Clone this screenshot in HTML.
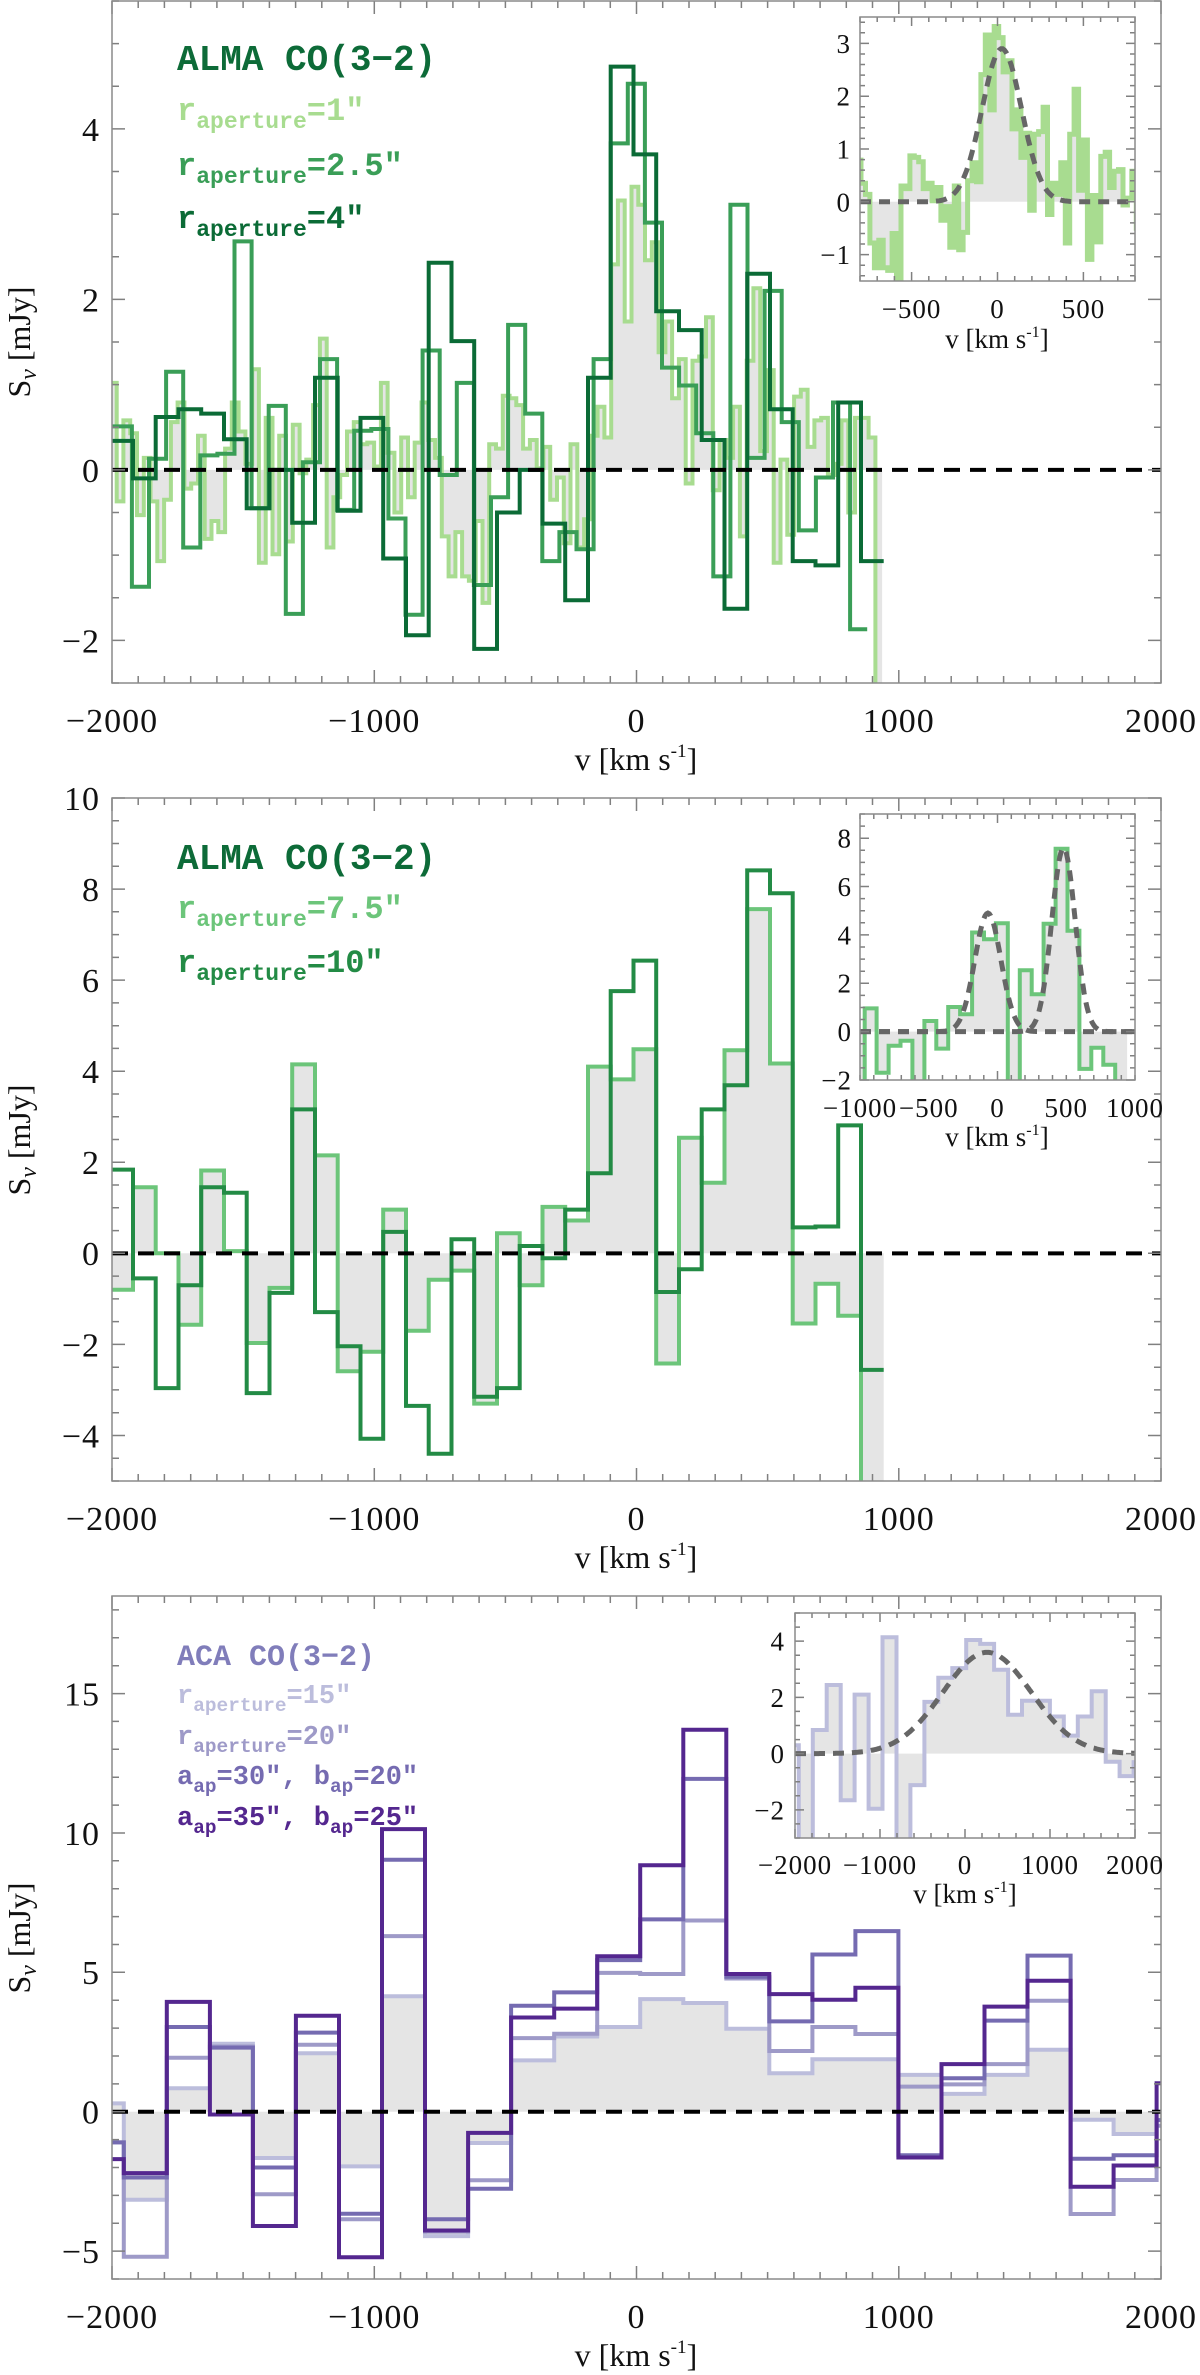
<!DOCTYPE html>
<html><head><meta charset="utf-8"><title>CO(3-2) spectra</title>
<style>
html,body{margin:0;padding:0;background:#fff;}
svg{display:block;}
text{font-family:"Liberation Serif",serif;fill:#111;}
.leg{font-family:"Liberation Mono",monospace;font-weight:bold;}
</style></head>
<body>
<svg id="fig" width="1200" height="2375" viewBox="0 0 1200 2375" xmlns="http://www.w3.org/2000/svg">
<rect x="0" y="0" width="1200" height="2375" fill="#fff"/>
</svg>
<script>
// ---------- DATA ----------
// Panel 1 (ALMA small apertures)
const vel1Start = -2008, vel1Width = 25.83;
const flux1 = [1.02,-0.37,0.58,0.43,-0.53,0.14,-0.37,-1.07,-0.35,0.56,0.79,-0.22,-0.16,0.40,-0.81,-0.60,-0.73,0.25,0.79,0.45,0.07,1.18,-1.09,0.61,-0.99,0.40,-0.84,0.53,-0.04,0.12,0.76,1.54,-0.91,-0.32,-0.06,0.45,0.56,0.30,0.32,0.04,1.02,0.20,-0.50,0.38,-0.32,0.32,0.79,0.35,0.14,-0.78,-1.25,-0.73,-1.25,-1.30,-0.60,-1.56,0.30,0.25,0.87,0.84,0.76,0.25,0.35,0.02,0.27,-0.35,-0.09,-0.86,0.30,-0.91,-0.58,0.40,0.74,0.38,2.41,3.16,1.74,3.32,3.11,2.46,2.67,1.38,1.74,0.84,1.30,-0.16,1.28,1.33,1.79,-0.24,0.35,0.14,0.74,-0.78,1.28,2.13,0.22,1.17,-1.09,0.12,-0.76,0.86,0.94,0.27,0.58,0.61,-0.06,0.07,0.58,-0.5,0.61,0.61,0.38,-3.0];
const vel25Start = -2054.4, vel25Width = 65.2;
const flux25 = [0.51,0.51,-1.37,0.13,1.15,-0.91,0.17,0.19,2.68,-0.45,0.75,-1.69,0.09,1.30,-0.47,0.46,0.48,-0.57,-1.70,1.40,-0.06,1.02,-1.35,-0.32,1.70,0.66,-1.07,-0.73,-0.93,1.30,3.83,4.53,2.90,1.20,0.99,0.43,-1.25,3.11,0.14,2.10,0.56,-0.71,-0.09,0.79,-1.87];
const vel4Start = -2006.75, vel4Width = 86.75;
const flux4 = [0.34,-0.1,0.62,0.71,0.66,0.36,-0.45,0.0,-0.62,1.08,-0.48,0.61,-1.04,-1.94,2.43,1.51,-2.1,-0.5,0.0,-0.63,-1.53,1.08,4.73,3.70,1.86,1.64,0.35,-1.63,2.30,0.71,-1.07,-1.12,0.79,-1.07];
// Panel 2 (ALMA large apertures)
const vel75Start = -2006.75, vel75Width = 86.75;
const flux75 = [-0.8,1.45,0,-1.57,1.82,0.05,-1.97,-0.76,4.15,2.15,-2.59,-2.16,0.96,-1.7,-0.58,-0.38,-3.3,0.44,-0.7,1.02,0.72,4.1,3.82,4.48,-2.42,2.54,1.55,4.46,7.56,4.17,-1.54,-0.67,-1.37,-6];
const flux10 = [1.84,-0.55,-2.96,-0.7,1.45,1.33,-3.07,-0.87,3.16,-1.29,-2.04,-4.07,0.47,-3.35,-4.4,0.31,-3.15,-2.96,0.16,-0.11,0.96,1.76,5.76,6.43,-0.85,-0.35,3.16,3.69,8.41,7.91,0.57,0.59,2.81,-2.56];
// Panel 3 (ACA)
const velAcaStart = -2119.1, velAcaWidth = 164.1;
const flux15 = [0.3,-3.16,0.84,2.44,-1.66,2.1,-1.96,4.14,-4.46,-1.12,1.84,2.7,3.04,4.04,3.9,2.98,1.38,1.88,1.88,1.32,0.64,1.32,2.22,-0.29,-0.8,-0.3];
const flux20 = [-1.1,-5.2,1.94,2.34,-2.96,2.4,-3.86,6.3,-4.3,-2.46,2.64,2.8,4.98,4.94,6.86,4.78,2.18,3.04,2.79,0.9,0.98,1.71,3.98,-3.67,-2.45,-0.5];
const flux30 = [-1.1,-2.36,3.04,2.3,-2.0,2.84,-3.66,9.04,-3.86,-2.76,3.8,4.28,5.44,6.9,11.94,4.84,3.24,5.64,6.48,-1.56,1.2,3.27,5.6,-1.69,-1.56,-0.3];
const flux35 = [-1.7,-2.2,3.94,-0.1,-4.1,3.44,-5.22,10.14,-4.26,-0.76,3.38,3.7,5.58,8.84,13.7,4.94,4.22,4.02,4.45,-1.64,1.71,3.77,4.7,-2.69,-1.93,1.02];
// Gaussian fits: amplitude, centre, sigma
const fit1Amp = [2.9], fit1Mu = [25], fit1Sig = [115];
const fit2Amp = [4.9, 7.6], fit2Mu = [-70, 480], fit2Sig = [95, 85];
const fit3Amp = [3.6], fit3Mu = [260], fit3Sig = [520];
// Tick labels
const mainXTicks = [-2000,-1000,0,1000,2000];
const p1YTicks = [-2,0,2,4];
const p2YTicks = [-4,-2,0,2,4,6,8,10];
const p3YTicks = [-5,0,5,10,15];
const in1XTicks = [-500,0,500], in1YTicks = [-1,0,1,2,3];
const in2XTicks = [-1000,-500,0,500,1000], in2YTicks = [-2,0,2,4,6,8];
const in3XTicks = [-2000,-1000,0,1000,2000], in3YTicks = [-2,0,2,4];

// ---------- DRAWING ----------
const NS = "http://www.w3.org/2000/svg";
const svg = document.getElementById('fig');
let clipId = 0;
function mk(tag, attrs, parent) {
  const e = document.createElementNS(NS, tag);
  for (const k in attrs) e.setAttribute(k, attrs[k]);
  (parent || svg).appendChild(e);
  return e;
}
function scale(d0, d1, r0, r1) { return v => r0 + (v - d0) * (r1 - r0) / (d1 - d0); }

function makeAxes(box, xr, yr) {
  const fx = scale(xr[0], xr[1], box.x0, box.x1);
  const fy = scale(yr[0], yr[1], box.y1, box.y0);
  return {fx, fy};
}
function clipFor(box) {
  const id = 'clip' + (clipId++);
  const cp = mk('clipPath', {id});
  mk('rect', {x: box.x0, y: box.y0, width: box.x1 - box.x0, height: box.y1 - box.y0}, cp);
  return 'url(#' + id + ')';
}
function stepD(ax, start, w, vals) {
  let d = `M${ax.fx(start).toFixed(1)},${ax.fy(vals[0]).toFixed(1)}`;
  for (let i = 0; i < vals.length; i++) {
    d += `H${ax.fx(start + (i + 1) * w).toFixed(1)}`;
    if (i + 1 < vals.length) d += `V${ax.fy(vals[i + 1]).toFixed(1)}`;
  }
  return d;
}
function fillD(ax, start, w, vals) {
  const y0 = ax.fy(0).toFixed(1);
  let d = `M${ax.fx(start).toFixed(1)},${y0}`;
  for (let i = 0; i < vals.length; i++) {
    d += `V${ax.fy(vals[i]).toFixed(1)}H${ax.fx(start + (i + 1) * w).toFixed(1)}`;
  }
  return d + `V${y0}Z`;
}
function drawTicks(g, box, ax, xr, yr, xMajor, xMinor, yMajor, yMinor, majLen, minLen) {
  let d = '';
  for (let v = Math.ceil(xr[0] / xMinor) * xMinor; v <= xr[1] + 1e-6; v += xMinor) {
    const isMaj = Math.abs(v / xMajor - Math.round(v / xMajor)) < 1e-6;
    const L = isMaj ? majLen : minLen, x = ax.fx(v).toFixed(1);
    d += `M${x},${box.y1}v${-L}M${x},${box.y0}v${L}`;
  }
  for (let v = Math.ceil(yr[0] / yMinor - 1e-6) * yMinor; v <= yr[1] + 1e-6; v += yMinor) {
    const isMaj = Math.abs(v / yMajor - Math.round(v / yMajor)) < 1e-6;
    const L = isMaj ? majLen : minLen, y = ax.fy(v).toFixed(1);
    d += `M${box.x0},${y}h${L}M${box.x1},${y}h${-L}`;
  }
  const t = mk('path', {d, stroke: '#808080', 'stroke-width': 1.5, fill: 'none'}, g);
  
  
  const f = mk('rect', {x: box.x0, y: box.y0, width: box.x1 - box.x0, height: box.y1 - box.y0, fill: 'none', stroke: '#8a8a8a', 'stroke-width': 1.5}, g);
  
  
}
function fmt(v) { return v < 0 ? '\u2212' + Math.abs(v) : String(v); }
function tickLabels(g, ax, xt, yt, xLabY, yLabX, size) {
  xt.forEach(v => {
    const t = mk('text', {x: ax.fx(v), y: xLabY, 'text-anchor': 'middle', 'font-size': size, 'letter-spacing': 1}, g);
    t.textContent = fmt(v);
    
    
  });
  yt.forEach(v => {
    const t = mk('text', {x: yLabX, y: ax.fy(v) + size * 0.35, 'text-anchor': 'end', 'font-size': size, 'letter-spacing': 1}, g);
    t.textContent = fmt(v);
    
    
  });
}
function xTitle(g, cx, y, size) {
  const t = mk('text', {x: cx, y, 'text-anchor': 'middle', 'font-size': size}, g);
  
  
  t.innerHTML = 'v [km s<tspan dy="' + (-size * 0.4) + '" font-size="' + (size * 0.6) + '">-1</tspan><tspan dy="' + (size * 0.4) + '">]</tspan>';
}
function yTitle(g, cx, cy, size) {
  const t = mk('text', {x: 0, y: 0, 'text-anchor': 'middle', 'font-size': size, transform: `translate(${cx},${cy}) rotate(-90)`}, g);
  
  
  t.innerHTML = 'S<tspan dy="6" font-size="' + (size * 0.75) + '" font-style="italic">\u03bd</tspan><tspan dy="-6"> [mJy]</tspan>';
}
function series(g, ax, start, w, vals, color, width, name) {
  const p = mk('path', {d: stepD(ax, start, w, vals), fill: 'none', stroke: color, 'stroke-width': width, 'stroke-linejoin': 'miter'}, g);
  
  
  return p;
}
function shade(g, ax, start, w, vals) {
  const p = mk('path', {d: fillD(ax, start, w, vals), fill: '#e5e5e5', stroke: 'none'}, g);
  
  
}
function zeroLine(g, box, ax, color, width, dash) {
  const y = ax.fy(0);
  const l = mk('line', {x1: box.x0, x2: box.x1, y1: y, y2: y, stroke: color, 'stroke-width': width, 'stroke-dasharray': dash}, g);
  
  
}
function gaussFits(g, ax, xr, amps, mus, sigs) {
  amps.forEach((a, k) => {
    let pts = [];
    for (let v = xr[0]; v <= xr[1]; v += 10) {
      pts.push(ax.fx(v).toFixed(1) + ',' + ax.fy(a * Math.exp(-0.5 * Math.pow((v - mus[k]) / sigs[k], 2))).toFixed(1));
    }
    const p = mk('polyline', {points: pts.join(' '), fill: 'none', stroke: '#666', 'stroke-width': 5, 'stroke-dasharray': '11 8'}, g);
    
    
  });
}
function legend(g, x, lines) {
  lines.forEach(L => {
    const t = mk('text', {x, y: L.y, class: 'leg', fill: L.color, 'font-size': L.size}, g);
    
    
    t.style.fill = L.color;
    t.innerHTML = L.html;
  });
}
function sub(main, s, rest, size) {
  return main + '<tspan dy="8" font-size="' + (size * 0.72) + '">' + s + '</tspan><tspan dy="-8">' + rest + '</tspan>';
}

// ---------- PANEL 1 ----------
(function () {
  const g = mk('g', {});
  
  
  const box = {x0: 112, x1: 1161, y0: 1, y1: 683};
  const xr = [-2000, 2000], yr = [-2.5, 5.5];
  const ax = makeAxes(box, xr, yr);
  const cg = mk('g', {'clip-path': clipFor(box)}, g);
  shade(cg, ax, vel1Start, vel1Width, flux1);
  series(cg, ax, vel1Start, vel1Width, flux1, '#a8dc90', 4, 'series-r1');
  series(cg, ax, vel25Start, vel25Width, flux25, '#3a9e57', 4, 'series-r2p5');
  series(cg, ax, vel4Start, vel4Width, flux4, '#0b6b36', 4, 'series-r4');
  zeroLine(cg, box, ax, '#000', 4, '16 10');
  drawTicks(g, box, ax, xr, yr, 1000, 100, 2, 0.5, 13, 7);
  tickLabels(g, ax, mainXTicks, p1YTicks, 732, 100, 34);
  xTitle(g, 636, 770, 32);
  yTitle(g, 30, 342, 32);
  legend(g, 177, [
    {y: 70, color: '#0d6b38', size: 36, html: 'ALMA CO(3\u22122)'},
    {y: 120, color: '#a8dc90', size: 32, html: sub('r', 'aperture', '=1\u2033', 32)},
    {y: 175, color: '#3a9e57', size: 32, html: sub('r', 'aperture', '=2.5\u2033', 32)},
    {y: 228, color: '#0b6b36', size: 32, html: sub('r', 'aperture', '=4\u2033', 32)}
  ]);
  // inset
  const ib = {x0: 860, x1: 1135, y0: 17, y1: 281};
  const ixr = [-800, 800], iyr = [-1.5, 3.5];
  const ia = makeAxes(ib, ixr, iyr);
  const ig = mk('g', {}, g);
  
  
  mk('rect', {x: ib.x0, y: ib.y0, width: ib.x1 - ib.x0, height: ib.y1 - ib.y0, fill: '#fff'}, ig);
  const icg = mk('g', {'clip-path': clipFor(ib)}, ig);
  shade(icg, ia, vel1Start, vel1Width, flux1);
  series(icg, ia, vel1Start, vel1Width, flux1, '#a8dc90', 5, 'inset-series-r1');
  gaussFits(icg, ia, ixr, fit1Amp, fit1Mu, fit1Sig);
  drawTicks(ig, ib, ia, ixr, iyr, 500, 100, 1, 0.2, 9, 5);
  tickLabels(ig, ia, in1XTicks, in1YTicks, 318, 851, 27);
  xTitle(ig, 997, 348, 27);
})();

// ---------- PANEL 2 ----------
(function () {
  const g = mk('g', {});
  
  
  const box = {x0: 112, x1: 1161, y0: 798, y1: 1481};
  const xr = [-2000, 2000], yr = [-5, 10];
  const ax = makeAxes(box, xr, yr);
  const cg = mk('g', {'clip-path': clipFor(box)}, g);
  shade(cg, ax, vel75Start, vel75Width, flux75);
  series(cg, ax, vel75Start, vel75Width, flux75, '#6cc57a', 4, 'series-r7p5');
  series(cg, ax, vel75Start, vel75Width, flux10, '#238b45', 4, 'series-r10');
  zeroLine(cg, box, ax, '#000', 4, '16 10');
  drawTicks(g, box, ax, xr, yr, 1000, 100, 2, 0.5, 13, 7);
  tickLabels(g, ax, mainXTicks, p2YTicks, 1530, 100, 34);
  xTitle(g, 636, 1568, 32);
  yTitle(g, 30, 1140, 32);
  legend(g, 177, [
    {y: 869, color: '#0d6b38', size: 36, html: 'ALMA CO(3\u22122)'},
    {y: 918, color: '#6cc57a', size: 32, html: sub('r', 'aperture', '=7.5\u2033', 32)},
    {y: 972, color: '#238b45', size: 32, html: sub('r', 'aperture', '=10\u2033', 32)}
  ]);
  const ib = {x0: 860, x1: 1135, y0: 814, y1: 1080};
  const ixr = [-1000, 1000], iyr = [-2, 9];
  const ia = makeAxes(ib, ixr, iyr);
  const ig = mk('g', {}, g);
  
  
  mk('rect', {x: ib.x0, y: ib.y0, width: ib.x1 - ib.x0, height: ib.y1 - ib.y0, fill: '#fff'}, ig);
  const icg = mk('g', {'clip-path': clipFor(ib)}, ig);
  shade(icg, ia, vel75Start, vel75Width, flux75);
  series(icg, ia, vel75Start, vel75Width, flux75, '#6cc57a', 4, 'inset-series-r7p5');
  gaussFits(icg, ia, ixr, fit2Amp, fit2Mu, fit2Sig);
  drawTicks(ig, ib, ia, ixr, iyr, 2000, 100, 2, 0.5, 9, 5);
  tickLabels(ig, ia, in2XTicks, in2YTicks, 1117, 852, 27);
  xTitle(ig, 997, 1146, 27);
})();

// ---------- PANEL 3 ----------
(function () {
  const g = mk('g', {});
  
  
  const box = {x0: 112, x1: 1161, y0: 1596, y1: 2279};
  const xr = [-2000, 2000], yr = [-6, 18.5];
  const ax = makeAxes(box, xr, yr);
  const cg = mk('g', {'clip-path': clipFor(box)}, g);
  shade(cg, ax, velAcaStart, velAcaWidth, flux15);
  series(cg, ax, velAcaStart, velAcaWidth, flux15, '#bcbddc', 4, 'series-r15');
  series(cg, ax, velAcaStart, velAcaWidth, flux20, '#9e9ac8', 4, 'series-r20');
  series(cg, ax, velAcaStart, velAcaWidth, flux30, '#756bb1', 4, 'series-a30-b20');
  series(cg, ax, velAcaStart, velAcaWidth, flux35, '#54278f', 4, 'series-a35-b25');
  zeroLine(cg, box, ax, '#000', 4, '16 10');
  drawTicks(g, box, ax, xr, yr, 1000, 100, 5, 1, 13, 7);
  tickLabels(g, ax, mainXTicks, p3YTicks, 2328, 100, 34);
  xTitle(g, 636, 2366, 32);
  yTitle(g, 30, 1938, 32);
  legend(g, 177, [
    {y: 1665, color: '#807dba', size: 30, html: 'ACA CO(3\u22122)'},
    {y: 1703, color: '#bcbddc', size: 27, html: sub('r', 'aperture', '=15\u2033', 27)},
    {y: 1744, color: '#9e9ac8', size: 27, html: sub('r', 'aperture', '=20\u2033', 27)},
    {y: 1784, color: '#756bb1', size: 27, html: sub('a', 'ap', '=30\u2033, ', 27) + sub('b', 'ap', '=20\u2033', 27)},
    {y: 1825, color: '#54278f', size: 27, html: sub('a', 'ap', '=35\u2033, ', 27) + sub('b', 'ap', '=25\u2033', 27)}
  ]);
  const ib = {x0: 795, x1: 1135, y0: 1613, y1: 1838};
  const ixr = [-2000, 2000], iyr = [-3, 5];
  const ia = makeAxes(ib, ixr, iyr);
  const ig = mk('g', {}, g);
  
  
  mk('rect', {x: ib.x0, y: ib.y0, width: ib.x1 - ib.x0, height: ib.y1 - ib.y0, fill: '#fff'}, ig);
  const icg = mk('g', {'clip-path': clipFor(ib)}, ig);
  shade(icg, ia, velAcaStart, velAcaWidth, flux15);
  series(icg, ia, velAcaStart, velAcaWidth, flux15, '#bcbddc', 4, 'inset-series-r15');
  gaussFits(icg, ia, ixr, fit3Amp, fit3Mu, fit3Sig);
  drawTicks(ig, ib, ia, ixr, iyr, 1000, 200, 2, 0.5, 9, 5);
  tickLabels(ig, ia, in3XTicks, in3YTicks, 1874, 785, 27);
  xTitle(ig, 965, 1903, 27);
})();
</script>
</body></html>
